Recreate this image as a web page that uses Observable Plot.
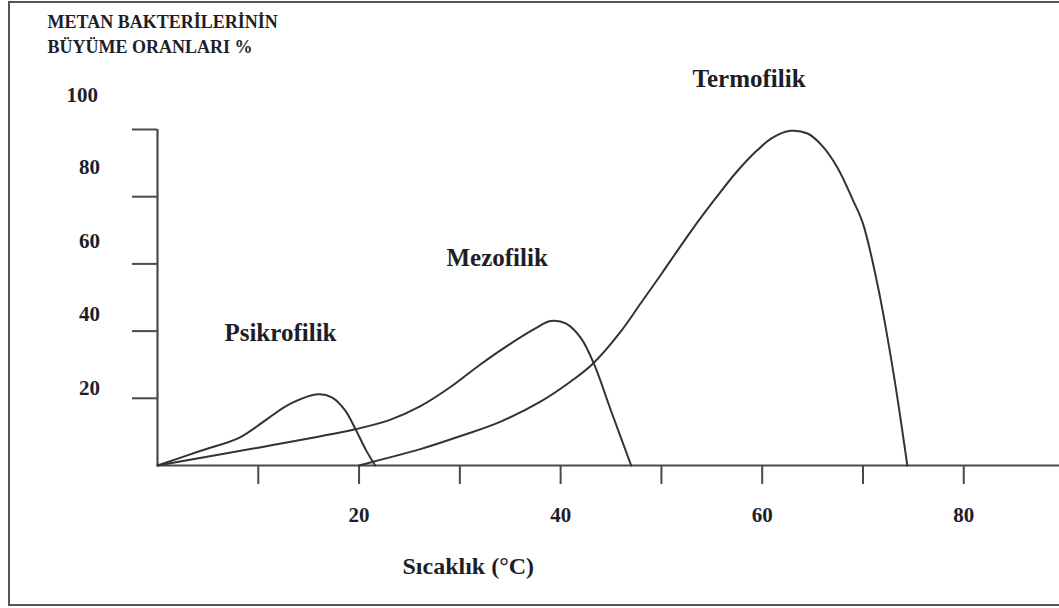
<!DOCTYPE html>
<html><head><meta charset="utf-8">
<script src="https://cdn.jsdelivr.net/npm/d3@7"></script>
<script src="https://cdn.jsdelivr.net/npm/@observablehq/plot@0.6"></script>
<style>
html,body{margin:0;padding:0;background:#fff;overflow:hidden;}
#wrap{position:relative;width:1059px;height:608px;overflow:hidden;}
#frame{position:absolute;left:8px;top:1px;width:1051px;height:605px;border-left:2px solid #555;border-top:2px solid #555;border-bottom:2px solid #555;box-sizing:border-box;}
#chart{position:absolute;left:0;top:0;}
</style></head><body>
<div id="wrap"><div id="frame"></div><div id="chart"></div></div>
<script>
// Series (x = temperature °C, y = growth rate %)
const psikroX = [0, 4.3, 8.2, 10.9, 13.2, 15.9, 17.3, 18.6, 19.7, 20.7, 21.6];
const psikroY = [0, 4.4, 8.4, 13.9, 18.4, 21.2, 20.3, 16.5, 10.5, 4.5, 0];
const mezoX = [0, 10, 19.5, 23, 26, 29, 32, 35, 37.5, 39, 40.5, 42, 43.3, 45, 47];
const mezoY = [0, 5.3, 10.7, 13.5, 17.5, 23.2, 30, 36.2, 40.8, 43, 42.3, 38, 30.3, 16.3, 0];
const termoX = [20, 22, 26, 30, 34, 38, 41, 43.2, 46, 48, 50, 53, 55.5, 57.5, 59.5, 61, 62.8, 64.5, 66, 67.5, 69, 70, 71.5, 73, 74.4];
const termoY = [0, 1.6, 4.8, 8.7, 13, 19, 25, 30.3, 40, 48.5, 57, 70, 80, 87.5, 93.8, 97.5, 99.6, 98.8, 95, 88.5, 79, 72, 53, 28, 0];

// Curve labels
const curveNames = ["Psikrofilik", "Mezofilik", "Termofilik"];
const curveLabelX = [12.2, 33.7, 58.7];
const curveLabelY = [39.3, 61.9, 115];

// Ticks and tick labels
const xTickValues = [10, 20, 30, 40, 50, 60, 70, 80];
const xTickLabels = [20, 40, 60, 80];
const yTickValues = [20, 40, 60, 80, 100];
const yTickLabels = [20, 40, 60, 80];
const yTickLabelPos = [22.9, 44.9, 66.7, 88.7];
const yTopLabel = ["100"];
const yTopLabelPos = [110.1];

const headerText = "METAN BAKTERİLERİNİN\nBÜYÜME ORANLARI %";
const xTitle = "Sıcaklık (°C)";

const rows = [
  ...psikroX.map((x, i) => ({series: "Psikrofilik", x, y: psikroY[i]})),
  ...mezoX.map((x, i) => ({series: "Mezofilik", x, y: mezoY[i]})),
  ...termoX.map((x, i) => ({series: "Termofilik", x, y: termoY[i]}))
];
const curveLabels = curveNames.map((t, i) => ({t, x: curveLabelX[i], y: curveLabelY[i]}));
const yLabels = yTickLabels.map((v, i) => ({t: String(v), y: yTickLabelPos[i]}));
const yTop = yTopLabel.map((t, i) => ({t, y: yTopLabelPos[i]}));

const ink = "#1e1e28";
const axisColor = "#4a4a4a";

const chart = Plot.plot({
  width: 1059, height: 608,
  marginLeft: 157, marginRight: 0, marginTop: 129, marginBottom: 143,
  x: {domain: [0, 89.5]},
  y: {domain: [0, 100]},
  style: {fontFamily: "'Liberation Serif', 'Times New Roman', serif", background: "transparent", color: ink},
  marks: [
    Plot.axisX({ticks: xTickValues, tickSize: 19, tickFormat: () => "", label: null, stroke: axisColor, strokeWidth: 2}),
    Plot.axisY({ticks: yTickValues, tickSize: 25, tickFormat: () => "", label: null, stroke: axisColor, strokeWidth: 2}),
    Plot.ruleY([0], {stroke: axisColor, strokeWidth: 2.2}),
    Plot.ruleX([0], {y1: 0, y2: 100, stroke: axisColor, strokeWidth: 2.2}),
    Plot.line(rows, {x: "x", y: "y", z: "series", curve: "catmull-rom", stroke: "#333", strokeWidth: 2}),
    Plot.text(curveLabels, {x: "x", y: "y", text: "t", fontSize: 25, fontWeight: "bold", fill: ink}),
    Plot.text(yLabels, {y: "y", text: "t", frameAnchor: "left", dx: -78.5, fontSize: 21, fontWeight: "bold", fill: ink}),
    Plot.text(yTop, {y: "y", text: "t", frameAnchor: "left", dx: -91, fontSize: 21, fontWeight: "bold", fill: ink}),
    Plot.text(xTickLabels, {x: d => d, text: d => String(d), frameAnchor: "bottom", dy: 56, fontSize: 21, fontWeight: "bold", fill: ink}),
    Plot.text([xTitle], {text: d => d, frameAnchor: "bottom-left", dx: 245, dy: 108, textAnchor: "start", fontSize: 24, fontWeight: "bold", fill: ink}),
    Plot.text([headerText], {text: d => d, frameAnchor: "top-left", dx: -110, dy: -119, textAnchor: "start", lineHeight: 1.39, fontSize: 18, fontWeight: "bold", fill: ink})
  ]
});
document.getElementById("chart").appendChild(chart);
</script>
</body></html>
